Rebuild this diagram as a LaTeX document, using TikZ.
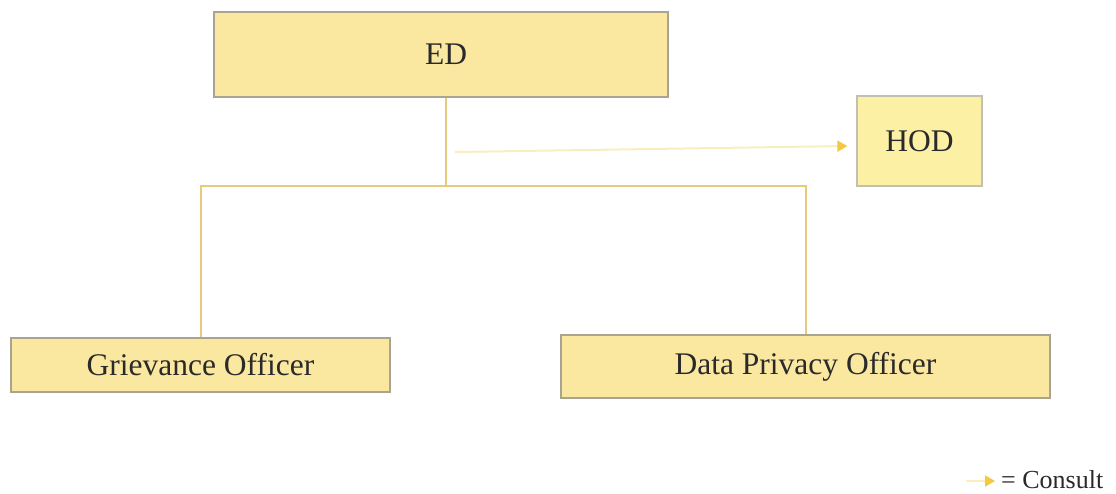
\documentclass[tikz,border=0pt]{standalone}
\usepackage{fontspec}
\setmainfont{Liberation Serif}
\usetikzlibrary{arrows.meta}
\definecolor{boxfill}{HTML}{FAE7A0}
\definecolor{hodfill}{HTML}{FBF0A4}
\definecolor{boxline}{HTML}{A9A38F}
\definecolor{conn}{HTML}{E6CB7E}
\definecolor{consult}{HTML}{F8EEC0}
\definecolor{tipcol}{HTML}{F5C842}
\definecolor{txt}{HTML}{2A2A2A}
\begin{document}
\begin{tikzpicture}[x=1pt,y=-1pt,
  orgbox/.style={draw=boxline, line width=1.2pt, fill=boxfill, inner sep=0pt,
    text=txt, font=\fontsize{31.5}{36}\selectfont},
  link/.style={draw=conn, line width=2pt},
  consultarrow/.style={draw=consult, line width=2pt,
    -{Triangle[length=10pt,width=11pt,color=tipcol]}}]
\useasboundingbox (0,0) rectangle (1116,493);
\node[orgbox, minimum width=454pt, minimum height=85pt] (ED) at (441,54.5) {\hspace*{10pt}ED};
\node[orgbox, fill=hodfill, draw=boxline!70, minimum width=125pt, minimum height=90pt] (HOD) at (919.5,141) {\raisebox{-2pt}{HOD}};
\node[orgbox, minimum width=379pt, minimum height=54pt] (GO) at (200.5,365) {\raisebox{1pt}{Grievance Officer}};
\node[orgbox, minimum width=489pt, minimum height=63pt] (DPO) at (805.5,366.5) {\raisebox{-2pt}{Data Privacy Officer}};
\coordinate (J) at (446,186);
\coordinate (CS) at (455,152);
\coordinate (LS) at (966,481);
\coordinate (LE) at (995,481);
\draw[link] (ED.south -| J) -- (J);
\draw[link] (GO.north) |- (J) -| (DPO.north);
\draw[consultarrow] (CS) -- ([xshift=-9pt]HOD.west |- 0,146);
\draw[consultarrow] (LS) -- (LE);
\node[anchor=west, inner sep=0pt, text=txt, font=\fontsize{26}{30}\selectfont] (LEG) at (1001,480) {= Consult};
\end{tikzpicture}
\end{document}
